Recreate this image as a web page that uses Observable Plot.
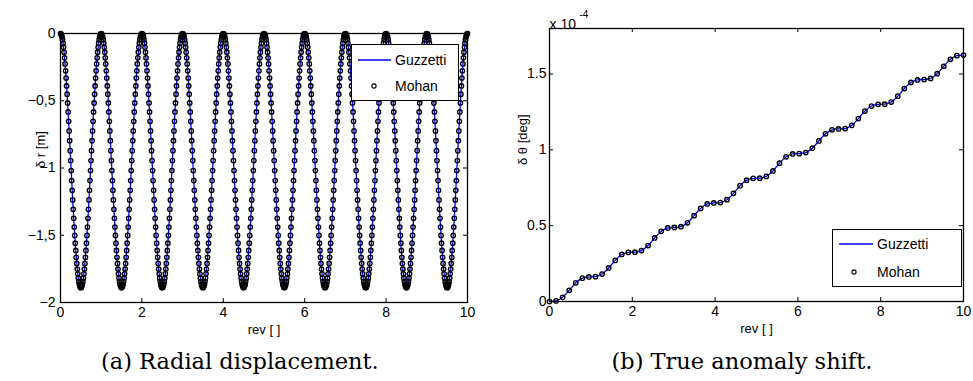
<!DOCTYPE html>
<html>
<head>
<meta charset="utf-8">
<script src="https://cdn.jsdelivr.net/npm/d3@7"></script>
<script src="https://cdn.jsdelivr.net/npm/@observablehq/plot@0.6"></script>
<style>
  html, body { margin: 0; padding: 0; background: #fff; }
  #root { position: relative; width: 973px; height: 381px; overflow: hidden; background: #fff; }
  .panel { position: absolute; top: 0; }
  .legend { position: absolute; background: #fff; border: 1px solid #000; box-sizing: border-box; }
  .caption { position: absolute; font-family: "DejaVu Serif", serif; font-size: 22.5px; line-height: 26px; white-space: nowrap; color: #000; }
</style>
</head>
<body>
<div id="root"></div>
<script>
// ---------- data ----------
// (a) radial displacement: one half revolution of samples (80 samples per rev), in m
const samplesPerRev = 80;
const halfPeriodR = [0, -0.003, -0.012, -0.026, -0.046, -0.072, -0.103, -0.139, -0.181, -0.226,
  -0.277, -0.331, -0.390, -0.451, -0.516, -0.583, -0.653, -0.724, -0.797, -0.871,
  -0.945, -1.019, -1.093, -1.166, -1.237, -1.307, -1.374, -1.439, -1.501, -1.559,
  -1.613, -1.664, -1.710, -1.751, -1.787, -1.818, -1.844, -1.864, -1.878, -1.887, -1.890];
const nRevs = 10;

// (b) true anomaly shift, rev and value (x 1e-4 deg)
const revB = [0, 0.159, 0.317, 0.476, 0.635, 0.794, 0.952, 1.111, 1.270, 1.429, 1.587, 1.746, 1.905,
  2.063, 2.222, 2.381, 2.540, 2.698, 2.857, 3.016, 3.175, 3.333, 3.492, 3.651, 3.810, 3.968,
  4.127, 4.286, 4.444, 4.603, 4.762, 4.921, 5.079, 5.238, 5.397, 5.556, 5.714, 5.873, 6.032,
  6.190, 6.349, 6.508, 6.667, 6.825, 6.984, 7.143, 7.302, 7.460, 7.619, 7.778, 7.937, 8.095,
  8.254, 8.413, 8.571, 8.730, 8.889, 9.048, 9.206, 9.365, 9.524, 9.683, 9.841, 10];
const thetaB = [0, 0.004, 0.028, 0.074, 0.123, 0.154, 0.162, 0.164, 0.181, 0.221,
  0.271, 0.310, 0.324, 0.325, 0.336, 0.369, 0.419, 0.463, 0.485, 0.488,
  0.493, 0.519, 0.566, 0.614, 0.643, 0.650, 0.652, 0.671, 0.713, 0.764,
  0.800, 0.812, 0.813, 0.825, 0.861, 0.912, 0.954, 0.973, 0.975, 0.982,
  1.011, 1.059, 1.106, 1.132, 1.138, 1.140, 1.162, 1.206, 1.256, 1.289,
  1.300, 1.301, 1.315, 1.354, 1.404, 1.444, 1.461, 1.463, 1.471, 1.502,
  1.551, 1.597, 1.621, 1.625];

const xTicks = [0, 2, 4, 6, 8, 10];
const yTicksA = [0, -0.5, -1, -1.5, -2];
const yTicksB = [0, 0.5, 1, 1.5];
const seriesNames = ["Guzzetti", "Mohan"];
const xLabel = "rev [ ]";
const yLabelA = "δ r [m]";
const yLabelB = "δ θ [deg]";
const exponentBase = "x 10";
const exponent = "-4";
const captions = ["(a) Radial displacement.", "(b) True anomaly shift."];

// ---------- build tables ----------
const periodR = halfPeriodR.concat(halfPeriodR.slice(1, halfPeriodR.length - 1).reverse());
const dataA = [];
for (let r = 0; r < nRevs; r++) {
  periodR.forEach((v, k) => dataA.push({rev: r + k / samplesPerRev, v}));
}
dataA.push({rev: nRevs, v: periodR[0]});
const dataB = revB.map((rev, i) => ({rev, v: thetaB[i]}));

const root = document.getElementById("root");
const FONT = "'Liberation Sans', Arial, Helvetica, sans-serif";

function panel({data, width, height, mL, mR, mT, mB, yDomain, yTicks, yFmt, yLabel, yLabelDx, yPad, curve, extra}) {
  const iw = width - mL - mR, ih = height - mT - mB;
  return Plot.plot({
    width, height,
    marginLeft: mL, marginRight: mR, marginTop: mT, marginBottom: mB,
    style: {fontFamily: FONT, fontSize: "14px", color: "#000", background: "transparent", overflow: "visible"},
    x: {domain: [0, 10]},
    y: {domain: yDomain},
    marks: [
      Plot.line(data, {x: "rev", y: "v", stroke: "#0000ff", strokeWidth: 1.3, curve}),
      Plot.dot(data, {x: "rev", y: "v", r: 2.2, stroke: "#000", strokeWidth: 1.35, fill: "none"}),
      Plot.frame({stroke: "#000", strokeWidth: 1.3}),
      Plot.tickX(xTicks, {x: d => d, stroke: "#000", insetTop: ih - 4}),
      Plot.tickX(xTicks, {x: d => d, stroke: "#000", insetBottom: ih - 4}),
      Plot.tickY(yTicks, {y: d => d, stroke: "#000", insetRight: iw - 4}),
      Plot.tickY(yTicks, {y: d => d, stroke: "#000", insetLeft: iw - 4}),
      Plot.axisX({ticks: xTicks, tickSize: 0, tickPadding: 5, label: null, fontSize: 14}),
      Plot.axisY({ticks: yTicks, tickSize: 0, tickPadding: yPad, tickFormat: yFmt, label: null, fontSize: 14}),
      Plot.text([xLabel], {frameAnchor: "bottom", dy: 31, fontSize: 13}),
      Plot.text([yLabel], {frameAnchor: "left", dx: yLabelDx, rotate: -90, fontSize: 13}),
      ...(extra || [])
    ]
  });
}

const fmtA = d => d === 0 ? "0" : String(d).replace(".", ",").replace("-", "\u2212");
const fmtB = d => String(d);

const svgA = panel({data: dataA, width: 480, height: 340, mL: 60, mR: 13, mT: 33, mB: 38,
  yDomain: [-2, 0], yTicks: yTicksA, yFmt: fmtA, yLabel: yLabelA, yLabelDx: -20, yPad: 5});
const divA = document.createElement("div");
divA.className = "panel"; divA.style.left = "0px";
divA.appendChild(svgA); root.appendChild(divA);

const svgB = panel({data: dataB, width: 493, height: 340, mL: 69, mR: 10, mT: 28, mB: 39,
  yDomain: [0, 1.8], yTicks: yTicksB, yFmt: fmtB, yLabel: yLabelB, yLabelDx: -27, yPad: 3,
  curve: "catmull-rom",
  extra: [
    Plot.text([exponentBase], {frameAnchor: "top-left", dy: -9, textAnchor: "start", fontSize: 14}),
    Plot.text([exponent], {frameAnchor: "top-left", dx: 30, dy: -18, textAnchor: "start", fontSize: 10})
  ]});
const divB = document.createElement("div");
divB.className = "panel"; divB.style.left = "480px";
divB.appendChild(svgB); root.appendChild(divB);

// ---------- legends ----------
function legend(left, top, w, h, lineY, markY, lineX0, lineX1, markX, textX) {
  const ns = "http://www.w3.org/2000/svg";
  const box = document.createElement("div");
  box.className = "legend";
  Object.assign(box.style, {left: left + "px", top: top + "px", width: w + "px", height: h + "px"});
  const s = document.createElementNS(ns, "svg");
  s.setAttribute("width", w - 2); s.setAttribute("height", h - 2);
  s.style.position = "absolute"; s.style.left = "0"; s.style.top = "0";
  const ln = document.createElementNS(ns, "line");
  ln.setAttribute("x1", lineX0); ln.setAttribute("x2", lineX1);
  ln.setAttribute("y1", lineY); ln.setAttribute("y2", lineY);
  ln.setAttribute("stroke", "#0000ff"); ln.setAttribute("stroke-width", 1.3);
  s.appendChild(ln);
  const c = document.createElementNS(ns, "circle");
  c.setAttribute("cx", markX); c.setAttribute("cy", markY); c.setAttribute("r", 2.1);
  c.setAttribute("fill", "none"); c.setAttribute("stroke", "#000"); c.setAttribute("stroke-width", 1.1);
  s.appendChild(c);
  [[seriesNames[0], lineY], [seriesNames[1], markY]].forEach(([t, y]) => {
    const tx = document.createElementNS(ns, "text");
    tx.setAttribute("x", textX); tx.setAttribute("y", y);
    tx.setAttribute("dy", "0.35em");
    tx.setAttribute("font-family", FONT); tx.setAttribute("font-size", 14);
    tx.textContent = t;
    s.appendChild(tx);
  });
  box.appendChild(s);
  root.appendChild(box);
}
legend(351, 44, 108, 57, 15, 41, 6, 39, 22, 43);
legend(832, 229, 130, 58, 14, 42, 6, 40, 21, 44);

// ---------- captions ----------
captions.forEach((t, i) => {
  const d = document.createElement("div");
  d.className = "caption";
  d.textContent = t;
  d.style.top = "348px";
  root.appendChild(d);
  const cx = i === 0 ? 240 : 742;
  d.style.left = (cx - d.offsetWidth / 2) + "px";
});
</script>
</body>
</html>
